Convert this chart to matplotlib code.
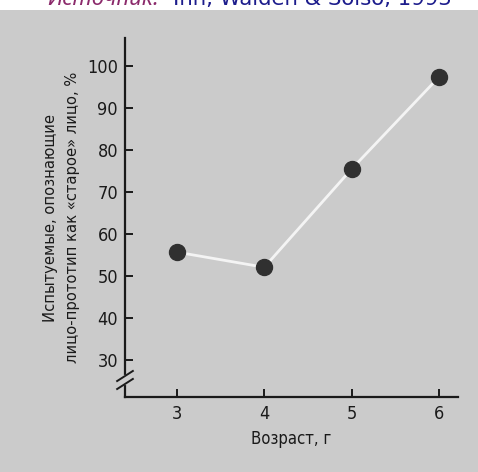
import matplotlib.pyplot as plt
from matplotlib.patches import Rectangle

ages = [3, 4, 5, 6]
percent_old = [55.7, 52.1, 75.5, 97.4]
yticks = [30, 40, 50, 60, 70, 80, 90, 100]

plt.rcParams['font.family'] = ['DejaVu Sans']
plt.rcParams['font.stretch'] = 'condensed'

fig = plt.figure(figsize=(4.78, 4.72), dpi=100)
fig.patch.set_facecolor('white')

bg = '#cbcbcb'
ink = '#1a1a1a'
# gray scanned page
fig.patches.append(Rectangle((0, 0), 1, 1 - 10 / 472, transform=fig.transFigure,
                             facecolor=bg, edgecolor='none', zorder=-5))

# source line, cut off at the top edge
fig.text(47 / 478, 1 - 5 / 472, 'Источник:', color='#8b2a6b', fontsize=16,
         style='italic', family=['Noto Sans', 'DejaVu Sans'], stretch='normal',
         va='baseline', ha='left')
fig.text(173 / 478, 1 - 5 / 472, 'Inn, Walden & Solso, 1993', color='#1c1c8c',
         fontsize=15.3, family=['DejaVu Sans'], stretch='normal',
         va='baseline', ha='left')

ax = fig.add_axes([125 / 478, 1 - 397 / 472, 333 / 478, 359 / 472])
ax.set_facecolor('none')

ax.plot(ages, percent_old, color='#f4f4f4', lw=2, zorder=2)
ax.plot(ages, percent_old, 'o', color='#303030', ms=11.5, zorder=3)

ax.set_xlim(2.405, 6.218)
ax.set_ylim(21.2, 106.7)
ax.set_xticks(ages)
ax.set_yticks(yticks)

for s in ['top', 'right']:
    ax.spines[s].set_visible(False)
for s in ['left', 'bottom']:
    ax.spines[s].set_linewidth(1.6)
    ax.spines[s].set_color(ink)

ax.tick_params(direction='in', length=6, width=1.4, colors=ink,
               labelsize=13, pad=6)
ax.tick_params(axis='y', pad=5)

# axis break marks
x0 = 2.405
ax.plot([x0, x0], [24.6, 25.9], color=bg, lw=3, clip_on=False, zorder=4)
for yb in [24.3, 26.2]:
    ax.plot([x0 - 0.09, x0 + 0.09], [yb - 1.2, yb + 1.2],
            color=ink, lw=1.4, clip_on=False, zorder=5)

ax.set_xlabel('Возраст, г', fontsize=12, color=ink, labelpad=5)
ax.set_ylabel('Испытуемые, опознающие\nлицо-прототип как «старое» лицо, %',
              fontsize=11.8, color=ink, labelpad=5, linespacing=1.6)

fig.savefig('out.png', dpi=100)
